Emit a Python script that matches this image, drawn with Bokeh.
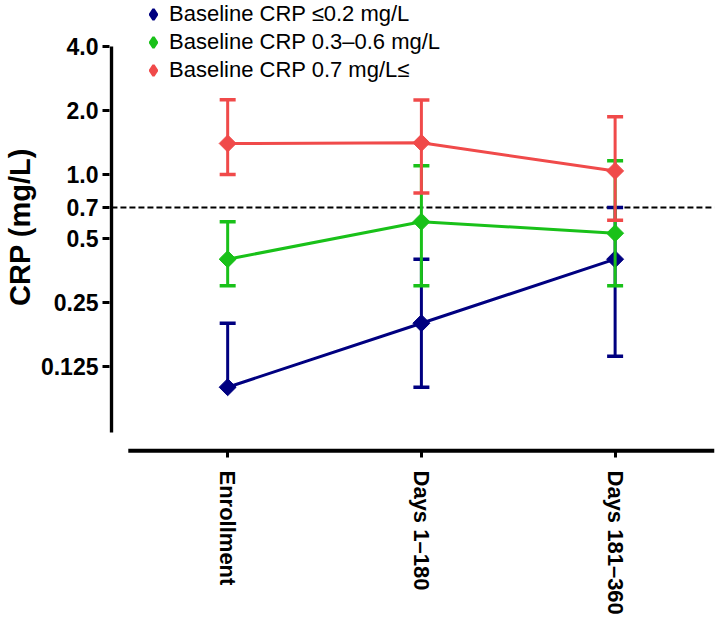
import numpy as np
from bokeh.plotting import figure
from bokeh.models import Range1d, FixedTicker, Legend, LegendItem, ColumnDataSource
from bokeh.embed import file_html
from bokeh.resources import INLINE

# ---------------- data ----------------
periods = ["Enrollment", "Days 1\u2013180", "Days 181\u2013360"]

low_label = "Baseline CRP \u22640.2 mg/L"
low_mean = [0.10, 0.20, 0.40]
low_upper = [0.20, 0.40, 0.70]
low_lower = [np.nan, 0.10, 0.14]

mid_label = "Baseline CRP 0.3\u20130.6 mg/L"
mid_mean = [0.40, 0.60, 0.53]
mid_upper = [0.60, 1.10, 1.16]
mid_lower = [0.30, 0.30, 0.30]

high_label = "Baseline CRP 0.7 mg/L\u2264"
high_mean = [1.40, 1.41, 1.04]
high_upper = [2.25, 2.24, 1.87]
high_lower = [1.00, 0.82, 0.61]

threshold = 0.7
y_ticks = [0.125, 0.25, 0.5, 0.7, 1.0, 2.0, 4.0]
y_tick_labels = ["0.125", "0.25", "0.5", "0.7", "1.0", "2.0", "4.0"]

# ---------------- styling ----------------
FONT = "Liberation Sans"
colors = {"low": "#000080", "mid": "#19C119", "high": "#F04A4A"}

x_pos = list(range(len(periods)))
x_start, x_end = -0.61, 2.513
y_start, y_end = 0.0488, 6.583
yaxis_x = -0.60
yaxis_bottom, yaxis_top = 0.0612, 4.0
xaxis_y = 0.0503
xaxis_pad = 0.513

p = figure(width=716, height=633,
           x_range=Range1d(x_start, x_end), y_range=Range1d(y_start, y_end),
           y_axis_type="log", output_backend="svg", toolbar_location=None,
           min_border_left=105, min_border_right=2, min_border_top=0,
           min_border_bottom=180)
p.outline_line_color = None
p.grid.visible = False
p.background_fill_color = "white"

# threshold line
p.segment(x0=[yaxis_x], y0=[threshold], x1=[x_end], y1=[threshold],
          line_color="black", line_width=2, line_dash="6 3")

# own axis lines
p.segment(x0=[yaxis_x], y0=[yaxis_bottom], x1=[yaxis_x], y1=[yaxis_top],
          line_color="black", line_width=3.5)
p.segment(x0=[x_pos[0] - xaxis_pad], y0=[xaxis_y], x1=[x_pos[-1] + xaxis_pad], y1=[xaxis_y],
          line_color="black", line_width=4)

legend_items = []
for key, label, mean, upper, lower in [
        ("low", low_label, low_mean, low_upper, low_lower),
        ("mid", mid_label, mid_mean, mid_upper, mid_lower),
        ("high", high_label, high_mean, high_upper, high_lower)]:
    c = colors[key]
    src = ColumnDataSource(dict(x=x_pos, m=mean, u=upper, l=lower))
    p.segment(x0="x", y0="m", x1="x", y1="u", source=src, line_color=c, line_width=3)
    p.segment(x0="x", y0="l", x1="x", y1="m", source=src, line_color=c, line_width=3)
    p.scatter(x="x", y="u", source=src, marker="dash", size=16, line_color=c, line_width=3.5)
    p.scatter(x="x", y="l", source=src, marker="dash", size=16, line_color=c, line_width=3.5)
    p.line(x="x", y="m", source=src, line_color=c, line_width=3)
    p.scatter(x="x", y="m", source=src, marker="square", angle=np.pi / 4, size=12,
              fill_color=c, line_color=c)
    # legend key (diamond symbol), not drawn in the plot itself
    key_r = p.scatter(x="x", y="m", source=src, marker="diamond", fill_color=c,
                      line_color=c, line_width=2.5, visible=False)
    legend_items.append(LegendItem(label=label, renderers=[key_r]))

legend = Legend(items=legend_items, location=(30, 370))
legend.background_fill_alpha = 0
legend.border_line_color = None
legend.inactive_fill_alpha = 0
legend.padding = 0
legend.margin = 0
legend.spacing = 2
legend.glyph_width = 28
legend.glyph_height = 26
legend.label_height = 26
legend.label_standoff = 2
legend.label_text_font = FONT
legend.label_text_font_size = "22px"
legend.label_text_color = "black"
p.add_layout(legend, "center")

# y axis
ya = p.yaxis[0]
ya.ticker = FixedTicker(ticks=y_ticks, minor_ticks=[])
ya.major_label_overrides = {t: s for t, s in zip(y_ticks, y_tick_labels)}
ya.axis_line_color = None
ya.major_tick_in = 0
ya.major_tick_out = 7
ya.major_tick_line_width = 3
ya.major_tick_line_color = "black"
ya.minor_tick_line_color = None
ya.major_label_standoff = 4
ya.major_label_text_font = FONT
ya.major_label_text_font_style = "bold"
ya.major_label_text_font_size = "23px"
ya.major_label_text_color = "black"
ya.axis_label = "CRP (mg/L)"
ya.axis_label_text_font = FONT
ya.axis_label_text_font_style = "bold"
ya.axis_label_text_font_size = "29px"
ya.axis_label_text_color = "black"
ya.axis_label_standoff = 2

# x axis
xa = p.xaxis[0]
xa.ticker = FixedTicker(ticks=x_pos, minor_ticks=[])
xa.major_label_overrides = {i: s for i, s in zip(x_pos, periods)}
xa.major_label_orientation = "vertical"
xa.axis_line_color = None
xa.major_tick_in = 3
xa.major_tick_out = 4
xa.major_tick_line_width = 3
xa.major_tick_line_color = "black"
xa.minor_tick_line_color = None
xa.major_label_standoff = 13
xa.major_label_text_font = FONT
xa.major_label_text_font_style = "bold"
xa.major_label_text_font_size = "22px"
xa.major_label_text_color = "black"

open("out.html", "w").write(file_html(p, INLINE))
